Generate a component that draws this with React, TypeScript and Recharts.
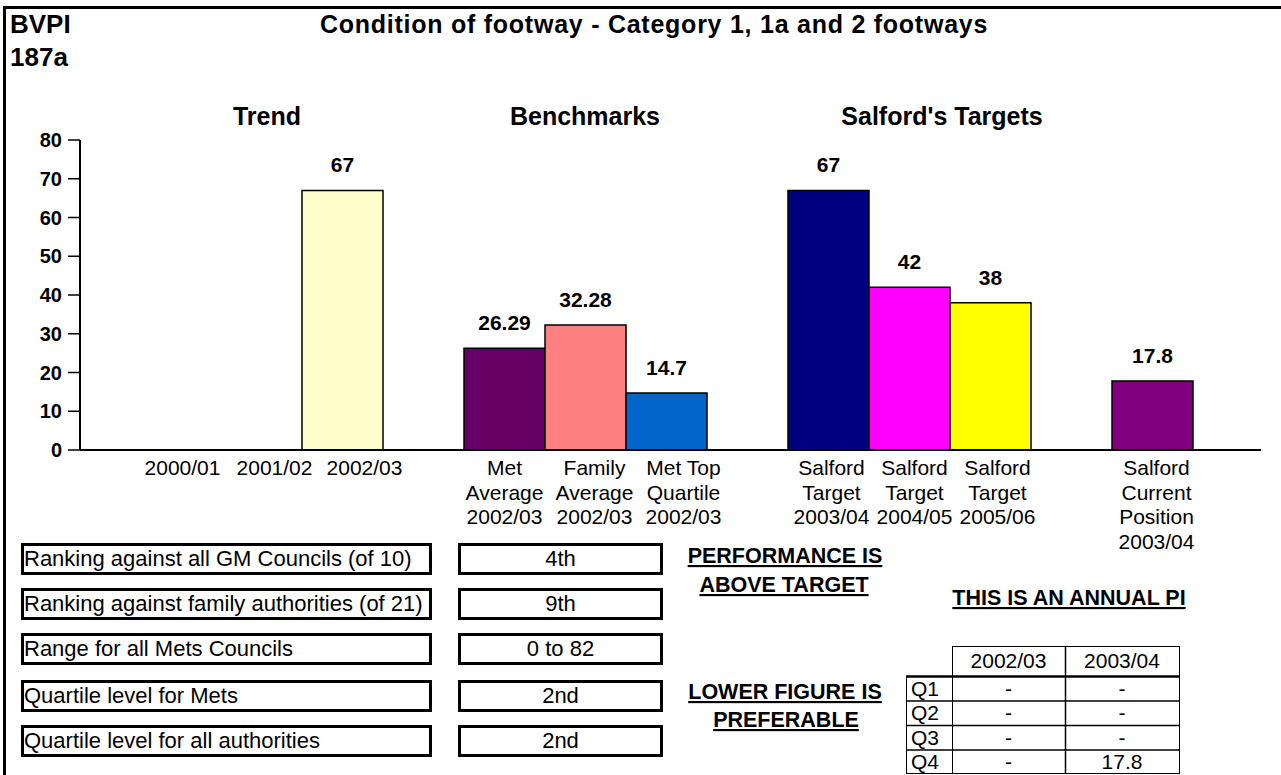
import { Bar, BarChart, Cell, LabelList, XAxis, YAxis } from 'recharts'

// chart categories (empty strings are the spacer slots between groups)
const categories = [
  '2000/01',
  '2001/02',
  '2002/03',
  '',
  'Met\nAverage\n2002/03',
  'Family\nAverage\n2002/03',
  'Met Top\nQuartile\n2002/03',
  '',
  'Salford\nTarget\n2003/04',
  'Salford\nTarget\n2004/05',
  'Salford\nTarget\n2005/06',
  '',
  'Salford\nCurrent\nPosition\n2003/04',
]
const values: (number | null)[] = [null, null, 67, null, 26.29, 32.28, 14.7, null, 67, 42, 38, null, 17.8]
const yTicks = [0, 10, 20, 30, 40, 50, 60, 70, 80]

const groupTitles = ['Trend', 'Benchmarks', "Salford's Targets"]

const rankingLabels = [
  'Ranking against all GM Councils (of 10)',
  'Ranking against family authorities (of 21)',
  'Range for all Mets Councils',
  'Quartile level for Mets',
  'Quartile level for all authorities',
]
const rankingValues = ['4th', '9th', '0 to 82', '2nd', '2nd']

const quarterRows = ['Q1', 'Q2', 'Q3', 'Q4']
const quarterCols = ['2002/03', '2003/04']
const values0203 = ['-', '-', '-', '-']
const values0304 = ['-', '-', '-', '17.8']

const BAR_COLORS = [
  '#ffffcc', '#ffffcc', '#ffffcc', '#ffffff',
  '#660066', '#ff8080', '#0066cc', '#ffffff',
  '#000080', '#ff00ff', '#ffff00', '#ffffff',
  '#800080',
]
// the original spreads its category labels a little wider than the bars
const TICK_DX = [2, 13, 22, 0, 0, 9, 17, 0, 3, 5, 7, 0, 4]

const chartData = categories.map((label, i) => ({ key: `c${i}`, label, value: values[i] }))

const FONT = "'Liberation Sans', Arial, Helvetica, sans-serif"

function CategoryTick({ x, y, payload }: any) {
  const lines = (categories[payload.index] ?? '').split('\n')
  const tx = x + (TICK_DX[payload.index] ?? 0)
  return (
    <text x={tx} y={y} textAnchor="middle" fontSize={21} fill="#000" fontFamily={FONT}>
      {lines.map((line, i) => (
        <tspan key={i} x={tx} dy={i === 0 ? 25 : 24.5}>
          {line}
        </tspan>
      ))}
    </text>
  )
}

// header / notes / tables drawn over the chart
function Overlay() {
  const titleCenters = [267, 585, 942]
  const boxTops = [543, 588, 633, 680, 725]
  const tblX = [906, 952, 1065, 1179]
  const headTop = 646
  const headH = 30
  const rowH = 24.5
  const rowTop = headTop + headH
  const tblBottom = rowTop + rowH * quarterRows.length
  return (
    <svg width={1281} height={775} style={{ position: 'absolute', left: 0, top: 0 }} fontFamily={FONT}>
      <path d="M4.5,780 V7.5 H1290" fill="none" stroke="#000" strokeWidth={3} />
      <text x={10} y={33} fontSize={26} fontWeight="bold">BVPI</text>
      <text x={10} y={66} fontSize={26} fontWeight="bold">187a</text>
      <text x={654} y={33} fontSize={25} fontWeight="bold" textAnchor="middle" letterSpacing={0.75}>
        Condition of footway - Category 1, 1a and 2 footways
      </text>
      {groupTitles.map((t, i) => (
        <text key={t} x={titleCenters[i]} y={125} fontSize={25} fontWeight="bold" textAnchor="middle">
          {t}
        </text>
      ))}

      {rankingLabels.map((t, i) => (
        <g key={t}>
          <rect x={22.5} y={boxTops[i] + 1.5} width={408} height={29} fill="#fff" stroke="#000" strokeWidth={3} />
          <text x={24} y={boxTops[i] + 23} fontSize={22}>{t}</text>
          <rect x={459.5} y={boxTops[i] + 1.5} width={202} height={29} fill="#fff" stroke="#000" strokeWidth={3} />
          <text x={560.5} y={boxTops[i] + 23} fontSize={22} textAnchor="middle">{rankingValues[i]}</text>
        </g>
      ))}

      <g fontSize={21.5} fontWeight="bold" textAnchor="middle" style={{ textDecoration: 'underline', whiteSpace: 'pre' }}>
        <text x={785} y={563}>PERFORMANCE IS </text>
        <text x={784} y={592}>ABOVE TARGET</text>
        <text x={785} y={699}>LOWER FIGURE IS </text>
        <text x={786} y={727}>PREFERABLE</text>
        <text x={1069} y={605}>THIS IS AN ANNUAL PI</text>
      </g>

      <g stroke="#000" strokeWidth={1} fill="none">
        <rect x={tblX[1] + 0.5} y={headTop + 0.5} width={tblX[3] - tblX[1]} height={headH} />
        <line x1={tblX[2] + 0.5} y1={headTop} x2={tblX[2] + 0.5} y2={tblBottom} strokeWidth={1.5} />
        <rect x={tblX[0] + 0.5} y={rowTop + 0.5} width={tblX[3] - tblX[0]} height={rowH * quarterRows.length - 1} />
        <line x1={tblX[1] + 0.5} y1={rowTop} x2={tblX[1] + 0.5} y2={tblBottom} />
        <line x1={tblX[0]} y1={rowTop + 0.5} x2={tblX[3]} y2={rowTop + 0.5} strokeWidth={2.5} />
        {quarterRows.slice(1).map((q, i) => (
          <line key={q} x1={tblX[0]} y1={rowTop + rowH * (i + 1) + 0.5} x2={tblX[3]} y2={rowTop + rowH * (i + 1) + 0.5} strokeWidth={1.5} />
        ))}
      </g>
      <g fontSize={21}>
        {quarterCols.map((c, i) => (
          <text key={c} x={(tblX[i + 1] + tblX[i + 2]) / 2} y={headTop + 22} textAnchor="middle">{c}</text>
        ))}
        {quarterRows.map((q, i) => (
          <g key={q}>
            <text x={tblX[0] + 5} y={rowTop + rowH * i + 19.5}>{q}</text>
            <text x={(tblX[1] + tblX[2]) / 2} y={rowTop + rowH * i + 19.5} textAnchor="middle">{values0203[i]}</text>
            <text x={(tblX[2] + tblX[3]) / 2} y={rowTop + rowH * i + 19.5} textAnchor="middle">{values0304[i]}</text>
          </g>
        ))}
      </g>
    </svg>
  )
}

export default function App() {
  return (
    <div
      style={{
        position: 'absolute',
        left: 0,
        top: 0,
        width: 1281,
        height: 775,
        overflow: 'hidden',
        background: '#fff',
        fontFamily: FONT,
      }}
    >
      <BarChart
        width={1281}
        height={560}
        data={chartData}
        margin={{ top: 140, right: 20, bottom: 0, left: 0 }}
        barCategoryGap={0}
        barGap={0}
      >
        <XAxis
          dataKey="key"
          interval={0}
          height={110}
          tick={<CategoryTick />}
          tickLine={false}
          tickSize={0}
          tickMargin={0}
          axisLine={{ stroke: '#000', strokeWidth: 2 }}
          padding={{ left: 60, right: 68 }}
        />
        <YAxis
          width={80}
          domain={[0, 80]}
          ticks={yTicks}
          interval={0}
          tickSize={12}
          tickMargin={6}
          axisLine={{ stroke: '#000', strokeWidth: 2 }}
          tickLine={{ stroke: '#000', strokeWidth: 1.5 }}
          tick={{ fill: '#000', fontSize: 20, fontWeight: 'bold', fontFamily: FONT }}
        />
        <Bar dataKey="value" isAnimationActive={false} stroke="#000" strokeWidth={1.5}>
          {chartData.map((d, i) => (
            <Cell key={d.key} fill={BAR_COLORS[i]} />
          ))}
          <LabelList
            dataKey="value"
            position="top"
            offset={18}
            fill="#000"
            fontSize={21}
            fontWeight="bold"
            fontFamily={FONT}
          />
        </Bar>
      </BarChart>
      <Overlay />
    </div>
  )
}
